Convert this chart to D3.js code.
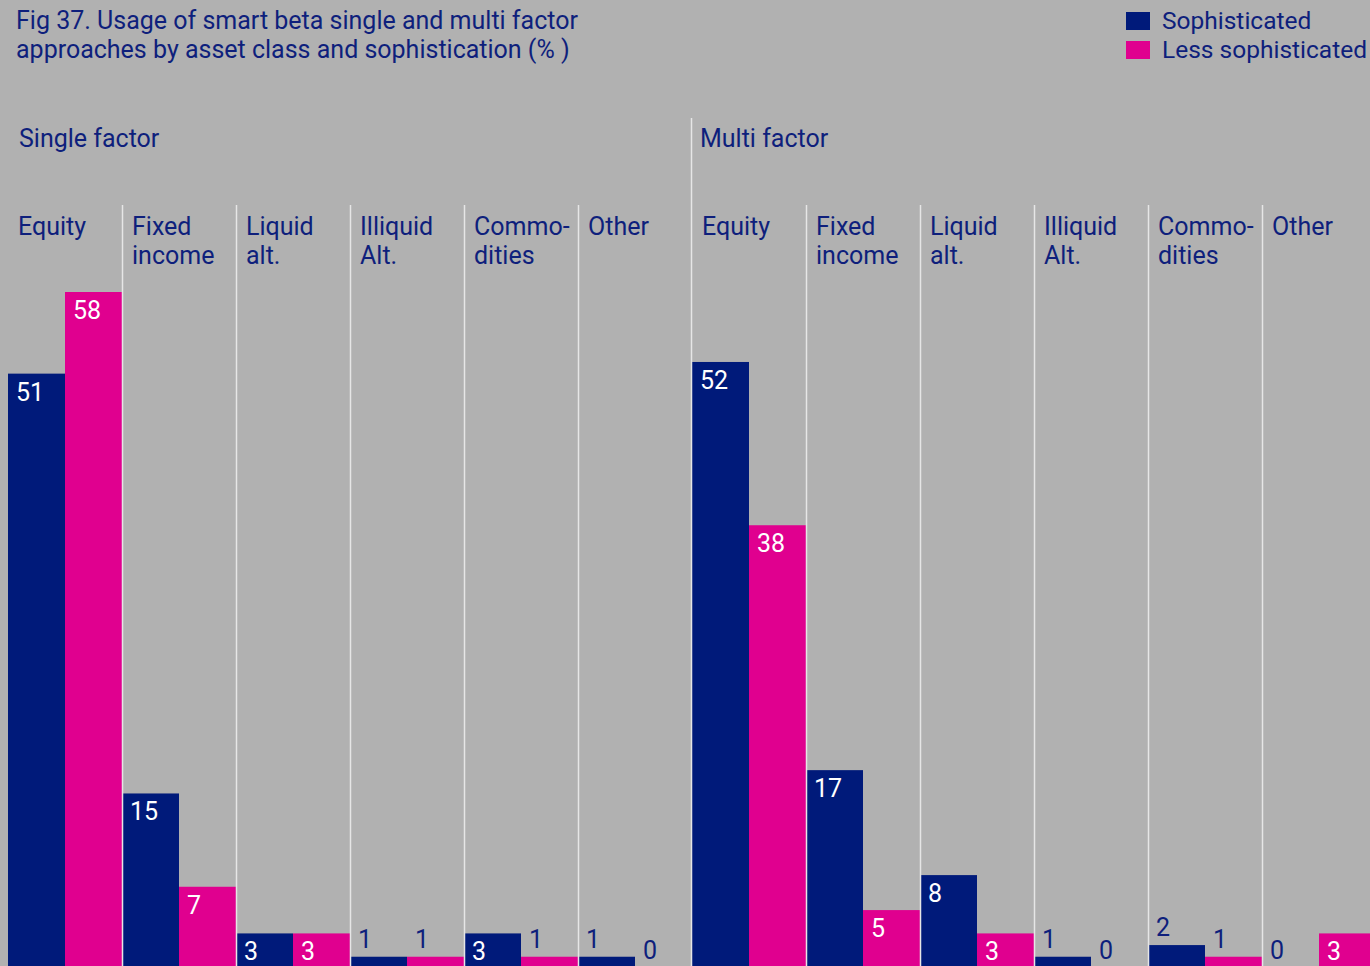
<!DOCTYPE html>
<html><head><meta charset="utf-8">
<script src="https://cdnjs.cloudflare.com/ajax/libs/d3/7.8.5/d3.min.js"></script>
<style>
html,body{margin:0;padding:0;background:#b1b1b1;overflow:hidden}
svg{display:block}
text{font-family:Roboto,"Noto Sans",sans-serif}
</style></head><body>
<script>
const titleLines = ["Fig 37. Usage of smart beta single and multi factor", "approaches by asset class and sophistication (% )"];
const seriesNames = ["Sophisticated", "Less sophisticated"];
const panelNames = ["Single factor", "Multi factor"];
const categories = ["Equity", "Fixed income", "Liquid alt.", "Illiquid Alt.", "Commodities", "Other"];
const categoryLabels = [["Equity"], ["Fixed", "income"], ["Liquid", "alt."], ["Illiquid", "Alt."], ["Commo-", "dities"], ["Other"]];
const singleSophisticated = [51, 15, 3, 1, 3, 1];
const singleLess = [58, 7, 3, 1, 1, 0];
const multiSophisticated = [52, 17, 8, 1, 2, 0];
const multiLess = [38, 5, 3, 0, 1, 3];

const W = 1370, H = 966;
const NAVY = "#001a7a", PINK = "#e0008f", TEXT = "#0e1f7c", BG = "#b1b1b1", SEP = "#e6e6e6";
const colors = [NAVY, PINK];

const svg = d3.select("body").append("svg").attr("width", W).attr("height", H);
svg.append("rect").attr("width", W).attr("height", H).attr("fill", BG);

// title
svg.append("g").selectAll("text").data(titleLines).join("text")
  .attr("x", 16).attr("y", (d, i) => 29 + i * 29)
  .attr("fill", TEXT).attr("font-size", 25).text(d => d);

// legend
const leg = svg.append("g").selectAll("g").data(seriesNames).join("g")
  .attr("transform", (d, i) => `translate(1126,${12 + i * 29})`);
leg.append("rect").attr("width", 24).attr("height", 18).attr("fill", (d, i) => colors[i]);
leg.append("text").attr("x", 36).attr("y", 17).attr("fill", TEXT).attr("font-size", 24.5).text(d => d);

const y = d3.scaleLinear().domain([0, 58]).range([968.4, 292]);

const panels = [
  { name: panelNames[0], range: [8, 692], data: [singleSophisticated, singleLess], titleDx: 11 },
  { name: panelNames[1], range: [692, 1376], data: [multiSophisticated, multiLess], titleDx: 8 }
];

panels.forEach((p, pi) => {
  const x = d3.scaleBand().domain(categories).range(p.range).padding(0);
  const xi = d3.scaleBand().domain([0, 1]).range([0, x.bandwidth()]).padding(0);
  const g = svg.append("g");

  // panel title
  g.append("text").attr("x", p.range[0] + p.titleDx).attr("y", 147)
    .attr("fill", TEXT).attr("font-size", 25).text(p.name);

  // category labels
  categories.forEach((c, ci) => {
    const t = g.append("text").attr("fill", TEXT).attr("font-size", 25);
    categoryLabels[ci].forEach((line, li) => {
      t.append("tspan").attr("x", x(c) + 10).attr("y", 235 + li * 29).text(line);
    });
  });

  // bars
  const rows = [];
  categories.forEach((c, ci) => {
    [0, 1].forEach(s => rows.push({ c, s, v: p.data[s][ci] }));
  });
  g.append("g").selectAll("rect").data(rows).join("rect")
    .attr("x", d => x(d.c) + xi(d.s))
    .attr("y", d => y(d.v))
    .attr("width", xi.bandwidth())
    .attr("height", d => y(0) - y(d.v))
    .attr("fill", d => colors[d.s]);

  // separators
  g.append("g").selectAll("line").data(categories.slice(1)).join("line")
    .attr("x1", d => x(d) + 0.5).attr("x2", d => x(d) + 0.5)
    .attr("y1", 205).attr("y2", H)
    .attr("stroke", SEP).attr("stroke-width", 1.5);
  if (pi === 1) {
    g.append("line").attr("x1", p.range[0] - 0.5).attr("x2", p.range[0] - 0.5)
      .attr("y1", 118).attr("y2", H).attr("stroke", SEP).attr("stroke-width", 1.5);
  }

  // value labels
  g.append("g").selectAll("text").data(rows).join("text")
    .attr("x", d => x(d.c) + xi(d.s) + 8)
    .attr("y", d => d.v >= 3 ? y(d.v) + 27 : Math.min(y(d.v) - 9, 960))
    .attr("fill", d => d.v >= 3 ? "#ffffff" : TEXT)
    .attr("font-size", 25)
    .text(d => d.v);
});
</script>
</body></html>
